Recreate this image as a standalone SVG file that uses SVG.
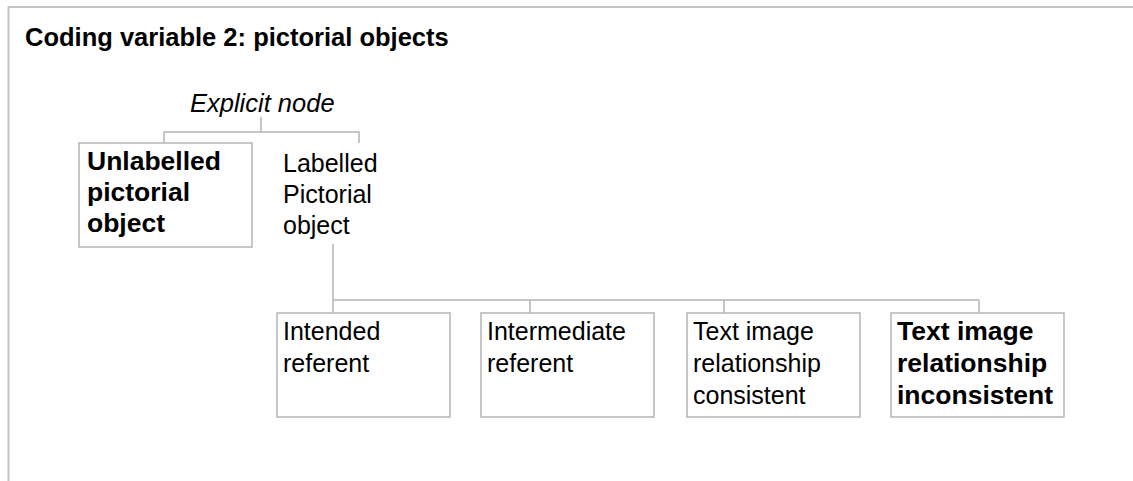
<svg xmlns="http://www.w3.org/2000/svg" width="1133" height="481" viewBox="0 0 1133 481">
<style>
.frame{stroke:#c4c4c4;stroke-width:2;fill:none}
.box{fill:#fff;stroke:#b5b5b5;stroke-width:1.5}
.conn{stroke:#b5b5b5;stroke-width:1.5;fill:none}
text{font-family:"Liberation Sans",Arial,Helvetica,sans-serif;fill:#000}
.t{font-size:25.5px;font-weight:bold}
.r{font-size:25px}
.b{font-size:26.5px;font-weight:bold}
.i{font-size:25.5px;font-style:italic}
</style>
<rect width="1133" height="481" fill="#fff"/>
<path class="frame" d="M8.5,481 V7 H1133"/>
<text class="t" x="25" y="46">Coding variable 2: pictorial objects</text>
<g id="connectors">
<path class="conn" d="M261,117 V132 M164,143 V132 H359 V143"/>
<path class="conn" d="M333,244 V313 M333,300 H979 V313 M530,300 V313 M724,300 V313"/>
</g>
<g id="explicit-node">
<text class="i" x="190" y="112">Explicit node</text>
</g>
<g id="unlabelled">
<rect class="box" x="79" y="143" width="173" height="104"/>
<text class="b" x="87" y="170">Unlabelled</text>
<text class="b" x="87" y="201">pictorial</text>
<text class="b" x="87" y="232">object</text>
</g>
<g id="labelled">
<text class="r" x="283" y="172">Labelled</text>
<text class="r" x="283" y="203">Pictorial</text>
<text class="r" x="283" y="234">object</text>
</g>
<g id="intended">
<rect class="box" x="277" y="313" width="173" height="104"/>
<text class="r" x="283" y="340">Intended</text>
<text class="r" x="283" y="372">referent</text>
</g>
<g id="intermediate">
<rect class="box" x="481" y="313" width="173" height="104"/>
<text class="r" x="487" y="340">Intermediate</text>
<text class="r" x="487" y="372">referent</text>
</g>
<g id="consistent">
<rect class="box" x="687" y="313" width="173" height="104"/>
<text class="r" x="693" y="340">Text image</text>
<text class="r" x="693" y="372">relationship</text>
<text class="r" x="693" y="404">consistent</text>
</g>
<g id="inconsistent">
<rect class="box" x="891" y="313" width="173" height="104"/>
<text class="b" x="897" y="340">Text image</text>
<text class="b" x="897" y="372">relationship</text>
<text class="b" x="897" y="404">inconsistent</text>
</g>
</svg>
